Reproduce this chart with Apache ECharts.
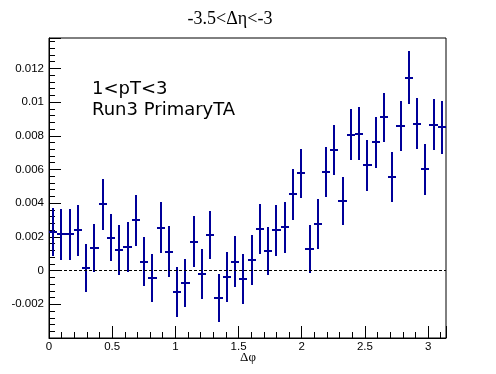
<!DOCTYPE html>
<html>
<head>
<meta charset="utf-8">
<script src="https://cdn.jsdelivr.net/npm/echarts@6/dist/echarts.min.js"></script>
<style>
html,body{margin:0;padding:0;background:#fff;}
#chart{width:496px;height:374px;}
</style>
</head>
<body>
<div id="chart"></div>
<script>
// 48 bins in delta-phi over [0, pi]
var nBins = 48;
var xMin = 0;
var xMax = Math.PI;
var values = [0.00227, 0.00215, 0.00215, 0.00239, 0.00014, 0.00132, 0.00393, 0.00195,
              0.00121, 0.00140, 0.00298, 0.00053, -0.00045, 0.00255, 0.00113, -0.00128,
              -0.00075, 0.00172, -0.00021, 0.00211, -0.00163, -0.00039, 0.00053, -0.00051,
              0.00061, 0.00247, 0.00115, 0.00239, 0.00257, 0.00452, 0.00578, 0.00127,
              0.00275, 0.00584, 0.00718, 0.00412, 0.00807, 0.00813, 0.00624, 0.00760,
              0.00910, 0.00553, 0.00856, 0.01144, 0.00872, 0.00600, 0.00866, 0.00849];
var errors = [0.00142, 0.0015, 0.0015, 0.0015, 0.00142, 0.00143, 0.0015, 0.00139,
              0.0015, 0.00146, 0.0015, 0.00147, 0.00142, 0.00153, 0.0015, 0.0015,
              0.00144, 0.0015, 0.00149, 0.00142, 0.00142, 0.00148, 0.0015, 0.00148,
              0.00148, 0.00146, 0.00142, 0.0015, 0.00151, 0.0015, 0.00146, 0.00143,
              0.00149, 0.00148, 0.00148, 0.00142, 0.0015, 0.00156, 0.00149, 0.0015,
              0.00145, 0.00149, 0.00148, 0.00156, 0.0015, 0.0015, 0.0015, 0.00155];
var xTickLabels = ['0', '0.5', '1', '1.5', '2', '2.5', '3'];
var yTickLabels = ['-0.002', '0', '0.002', '0.004', '0.006', '0.008', '0.01', '0.012'];
var titleText = '-3.5<\u0394\u03b7<-3';
var xTitle = '\u0394\u03c6';
var infoLines = ['1<pT<3', 'Run3 PrimaryTA'];

var binWidth = (xMax - xMin) / nBins;
var data = values.map(function (v, i) {
  return [xMin + (i + 0.5) * binWidth, v, errors[i]];
});

function xFmt(v) {
  var s = String(+v.toFixed(4));
  return xTickLabels.indexOf(s) >= 0 ? s : '';
}
function yFmt(v) {
  var s = String(+v.toFixed(4));
  return yTickLabels.indexOf(s) >= 0 ? s : '';
}

var color = '#000099';
var chart = echarts.init(document.getElementById('chart'), null, {renderer: 'canvas'});
var option = {
  backgroundColor: '#ffffff',
  animation: false,
  grid: {left: 49, top: 38, width: 397, height: 300, show: true,
         borderColor: '#000', borderWidth: 1, backgroundColor: 'transparent'},
  xAxis: [
    {type: 'value', min: xMin, max: xMax, interval: 0.5, position: 'bottom',
     axisLine: {show: true, onZero: false, lineStyle: {color: '#000', width: 1}},
     axisTick: {show: true, inside: true, length: 12, lineStyle: {color: '#000'}},
     axisLabel: {formatter: xFmt, color: '#000', fontFamily: 'Liberation Sans', fontSize: 11.5, margin: 3},
     splitLine: {show: false}},
    {type: 'value', min: xMin, max: xMax, interval: 0.1, position: 'bottom',
     axisLine: {show: false, onZero: false},
     axisTick: {show: true, inside: true, length: 6, lineStyle: {color: '#000'}},
     axisLabel: {show: false}, splitLine: {show: false}}
  ],
  yAxis: [
    {type: 'value', min: -0.004, max: 0.0138, interval: 0.002, position: 'left',
     axisLine: {show: true, onZero: false, lineStyle: {color: '#000', width: 1}},
     axisTick: {show: true, inside: true, length: 12, lineStyle: {color: '#000'}},
     axisLabel: {formatter: yFmt, color: '#000', fontFamily: 'Liberation Sans', fontSize: 11.5, margin: 5},
     splitLine: {show: false}},
    {type: 'value', min: -0.004, max: 0.0138, interval: 0.0004, position: 'left',
     axisLine: {show: false, onZero: false},
     axisTick: {show: true, inside: true, length: 6, lineStyle: {color: '#000'}},
     axisLabel: {show: false}, splitLine: {show: false}}
  ],
  series: [{
    type: 'custom',
    xAxisIndex: 0, yAxisIndex: 0,
    data: data,
    renderItem: function (params, api) {
      var x = api.value(0), y = api.value(1), e = api.value(2);
      var hw = binWidth / 2;
      var l = api.coord([x - hw, y]);
      var r = api.coord([x + hw, y]);
      var t = api.coord([x, y + e]);
      var b = api.coord([x, y - e]);
      var cx = Math.round(t[0]);
      var cy = Math.round(l[1]);
      var style = {stroke: color, lineWidth: 2};
      return {
        type: 'group',
        children: [
          {type: 'line', shape: {x1: Math.round(l[0]), y1: cy, x2: Math.round(r[0]), y2: cy}, style: style},
          {type: 'line', shape: {x1: cx, y1: Math.round(t[1]), x2: cx, y2: Math.round(b[1])}, style: style}
        ]
      };
    },
    markLine: {
      silent: true, symbol: ['none', 'none'],
      label: {show: false},
      lineStyle: {color: '#000', type: [3, 2], width: 1},
      data: [{yAxis: 0}]
    },
    z: 3
  }],
  graphic: [
    {type: 'text', x: 230, y: 19,
     style: {text: titleText, align: 'center', verticalAlign: 'middle',
             font: '18px "Liberation Serif"', fill: '#000'}},
    {type: 'text', x: 92, y: 89,
     style: {text: infoLines[0], align: 'left', verticalAlign: 'middle',
             font: '18px "DejaVu Sans"', fill: '#000'}},
    {type: 'text', x: 92, y: 110.5,
     style: {text: infoLines[1], align: 'left', verticalAlign: 'middle',
             font: '18px "DejaVu Sans"', fill: '#000'}},
    {type: 'text', x: 248, y: 358,
     style: {text: xTitle, align: 'center', verticalAlign: 'middle',
             font: '13px "Liberation Serif"', fill: '#000'}}
  ]
};
chart.setOption(option);
</script>
</body>
</html>
